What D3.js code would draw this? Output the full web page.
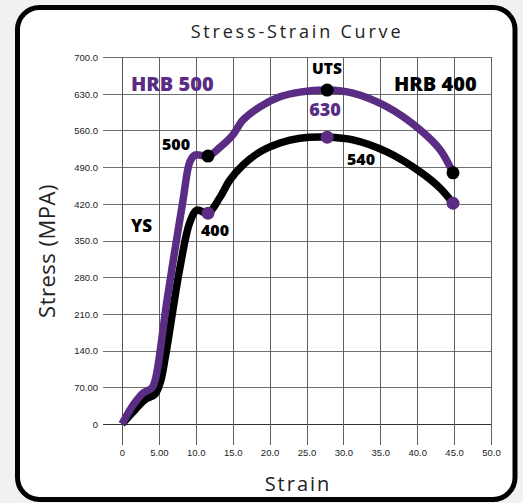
<!DOCTYPE html>
<html>
<head>
<meta charset="utf-8">
<script src="https://cdn.jsdelivr.net/npm/d3@7"></script>
<style>
  html, body { margin: 0; padding: 0; background: #f1f1f1; }
  svg { display: block; font-family: "Open Sans", sans-serif; }
  .tick text { font-size: 9.5px; fill: #222; }
</style>
</head>
<body>
<svg id="chart" width="523" height="503"></svg>
<script>
// Values (strain, stress)
var hrb500_strain = [0, 1.5, 2.85, 4.07, 4.6, 6.1, 8.27, 9.2, 9.9, 11.65, 13.3, 15.0, 16.4, 18.7, 21.4, 24.1, 27.8, 31.3, 35.9, 40.4, 43.1, 44.85];
var hrb500_stress = [0, 36, 59, 69, 90, 236, 427, 500, 513, 511, 528, 551, 580, 605, 624, 633, 637, 631, 605, 561, 523, 479];
var hrb400_strain = [0, 1.76, 3.1, 4.47, 5.2, 5.9, 7.86, 9.2, 10.16, 11.65, 13.3, 14.6, 16.4, 18.7, 21.4, 24.1, 27.8, 31.3, 35.9, 40.4, 43.1, 44.85];
var hrb400_stress = [0, 27, 46, 57, 80, 130, 299, 385, 408, 402, 433, 465, 494, 519, 536, 545, 547, 542, 519, 481, 450, 421];
// marked points: yield, UTS, end
var hrb500_marks = [[11.65, 511], [27.8, 637], [44.85, 479]];
var hrb400_marks = [[11.65, 402], [27.8, 547], [44.85, 421]];
var xTicks = [0, 5, 10, 15, 20, 25, 30, 35, 40, 45, 50];
var xTickLabels = ["0", "5.00", "10.0", "15.0", "20.0", "25.0", "30.0", "35.0", "40.0", "45.0", "50.0"];
var yTicks = [0, 70, 140, 210, 280, 350, 420, 490, 560, 630, 700];
var yTickLabels = ["0", "70.00", "140.0", "210.0", "280.0", "350.0", "420.0", "490.0", "560.0", "630.0", "700.0"];

var purple = "#5b2c83";
var svg = d3.select("#chart");

// card
svg.append("rect")
  .attr("x", 17.5).attr("y", 7.5)
  .attr("width", 497.5).attr("height", 492)
  .attr("rx", 22).attr("ry", 22)
  .style("fill", "#fff")
  .style("stroke", "#000")
  .style("stroke-width", 5);

var x = d3.scaleLinear().domain([0, 50]).range([122, 491]);
var y = d3.scaleLinear().domain([0, 700]).range([424, 57]);

// grid
var grid = svg.append("g").attr("class", "grid");
grid.selectAll("line.h").data(yTicks).enter().append("line")
  .attr("x1", 103).attr("x2", x(50))
  .attr("y1", function(d) { return Math.round(y(d)) + 0.5; })
  .attr("y2", function(d) { return Math.round(y(d)) + 0.5; })
  .style("stroke", function(d) { return d === 0 ? "#333" : "#707070"; })
  .style("stroke-width", 1);
grid.selectAll("line.v").data(xTicks).enter().append("line")
  .attr("y1", y(700)).attr("y2", 445)
  .attr("x1", function(d) { return Math.round(x(d)) + 0.5; })
  .attr("x2", function(d) { return Math.round(x(d)) + 0.5; })
  .style("stroke", function(d) { return d === 0 ? "#555" : "#606060"; })
  .style("stroke-width", 1);

// axes (labels only, lines are drawn by the grid)
svg.append("g")
  .attr("transform", "translate(98,0)")
  .call(d3.axisLeft(y).tickValues(yTicks).tickSize(0)
    .tickFormat(function(d, i) { return yTickLabels[i]; }))
  .call(function(g) { g.select(".domain").remove(); })
  .selectAll("text").attr("x", 0).attr("dy", "0.35em");
svg.append("g")
  .attr("transform", "translate(0,449)")
  .call(d3.axisBottom(x).tickValues(xTicks).tickSize(0)
    .tickFormat(function(d, i) { return xTickLabels[i]; }))
  .call(function(g) { g.select(".domain").remove(); })
  .selectAll("text").attr("y", 0).attr("dy", "0.71em");

// curves
var line = d3.line()
  .curve(d3.curveCatmullRom.alpha(0.5))
  .x(function(d) { return x(d[0]); })
  .y(function(d) { return y(d[1]); });

svg.append("path")
  .datum(d3.zip(hrb400_strain, hrb400_stress))
  .attr("d", line)
  .style("fill", "none").style("stroke", "#000")
  .style("stroke-width", 7.5).style("stroke-linecap", "butt");
svg.append("path")
  .datum(d3.zip(hrb500_strain, hrb500_stress))
  .attr("d", line)
  .style("fill", "none").style("stroke", purple)
  .style("stroke-width", 7.5).style("stroke-linecap", "butt");

// dots
svg.selectAll("circle.m500").data(hrb500_marks).enter().append("circle")
  .attr("cx", function(d) { return x(d[0]); })
  .attr("cy", function(d) { return y(d[1]); })
  .attr("r", 6.5).style("fill", "#000");
svg.selectAll("circle.m400").data(hrb400_marks).enter().append("circle")
  .attr("cx", function(d) { return x(d[0]); })
  .attr("cy", function(d) { return y(d[1]); })
  .attr("r", 6.5).style("fill", purple);

// annotations
function label(txt, px, py, size, color, anchor) {
  svg.append("text")
    .attr("x", px).attr("y", py)
    .attr("text-anchor", anchor || "start")
    .style("font-size", size + "px")
    .style("font-weight", 800)
    .style("fill", color)
    .text(txt);
}
label("HRB 500", 131, 91, 20, purple);
label("HRB 400", 394, 91, 20, "#000");
label("UTS", 327, 74, 15.5, "#000", "middle");
label("630", 325, 116, 18, purple, "middle");
label("500", 176, 150, 16, "#000", "middle");
label("YS", 131, 232, 17, "#000");
label("400", 215, 236, 16, "#000", "middle");
label("540", 361, 165, 16, "#000", "middle");

// titles
svg.append("text")
  .attr("x", 297).attr("y", 38)
  .attr("text-anchor", "middle")
  .style("font-size", "18px").style("letter-spacing", "2.8px")
  .style("fill", "#222")
  .text("Stress-Strain Curve");
svg.append("text")
  .attr("x", 298).attr("y", 491)
  .attr("text-anchor", "middle")
  .style("font-size", "20px").style("letter-spacing", "2px")
  .style("fill", "#222")
  .text("Strain");
svg.append("text")
  .attr("transform", "translate(55,251) rotate(-90)")
  .attr("text-anchor", "middle")
  .style("font-size", "22px").style("letter-spacing", "0.5px")
  .style("fill", "#222")
  .text("Stress (MPA)");
</script>
</body>
</html>
